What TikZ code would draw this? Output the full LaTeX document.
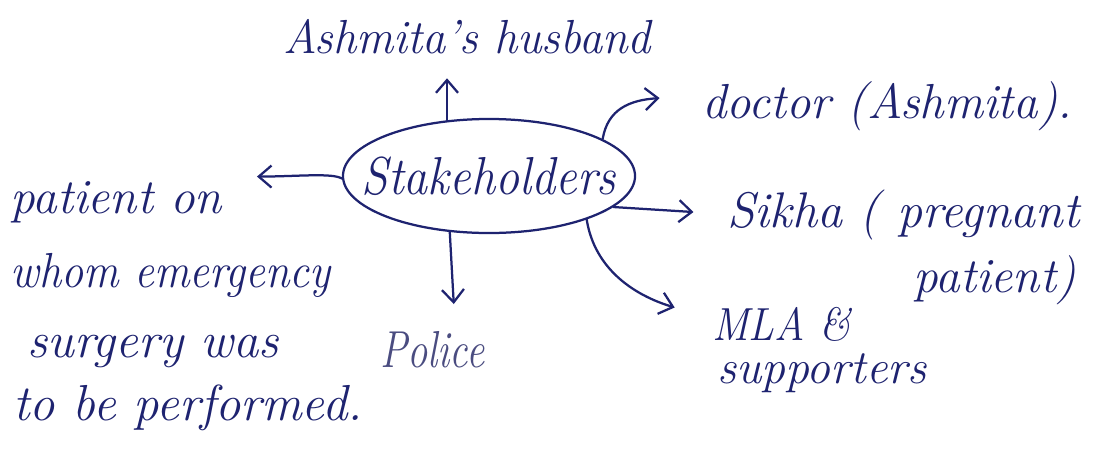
\documentclass[tikz,border=0pt]{standalone}
\usepackage{graphicx}
\usetikzlibrary{arrows.meta,shapes.geometric}
\definecolor{ink}{HTML}{1E2370}
\definecolor{inklight}{HTML}{4A4C80}
\begin{document}
\begin{tikzpicture}[x=0.025cm,y=-0.025cm,
  hand/.style={font=\fontsize{#1}{#1}\selectfont\itshape, text=ink, inner sep=0pt, anchor=base west},
  hand/.default=34,
  arr/.style={draw=ink, line width=1.6pt, line cap=round, line join=round, -{Straight Barb[length=3.2mm,width=5.5mm,line width=1.6pt]}},
  hub/.style={ellipse, draw=ink, line width=1.6pt, minimum width=7.3cm, minimum height=2.85cm, inner sep=0pt, font=\fontsize{38}{38}\selectfont\itshape, text=ink}]
\useasboundingbox[fill=white] (0,0) rectangle (1093,455);
\node[hub] (stk) at (489,176) {\makebox[0pt]{\raisebox{-2pt}{\scalebox{0.9}[1]{Stakeholders}}}};
\node[hand=34] (hus) at (283,53) {\scalebox{0.97}[1]{Ashmita's husband}};
\node[hand=35] (doc) at (702,118) {\scalebox{0.99}[1]{doctor (Ashmita).}};
\node[hand=35] (p1) at (10,213) {patient on};
\node[hand=35] (p2) at (10,287) {\scalebox{0.9}[1]{whom emergency}};
\node[hand=36] (p3) at (27,357) {surgery was};
\node[hand=36] (p4) at (13,420) {to be performed.};
\node[hand=35.6] (s1) at (727,227) {Sikha ( pregnant};
\node[hand=35] (s2) at (913,292) {patient)};
\node[hand=33] (m1) at (712,340) {\scalebox{0.9}[1]{MLA \&}};
\node[hand=34] (m2) at (717,383) {supporters};
\node[hand=37, text=inklight] (pol) at (380,367) {\scalebox{0.78}[1]{Police}};
% connectors
\draw[arr] (stk.127) -- ++(0,-42);
\draw[arr] (stk.18) .. controls +(5,-30) and +(-30,2) .. ++(57,-41);
\draw[arr] (stk.181) .. controls +(-10,-6) and +(40,0) .. ++(-85,-2);
\draw[arr] (stk.-14) -- ++(80,5);
\draw[arr] (stk.-125) -- ++(4,72);
\draw[arr] (stk.-24) .. controls +(8,50) and +(-40,-12) .. ++(88,88);
\end{tikzpicture}
\end{document}
